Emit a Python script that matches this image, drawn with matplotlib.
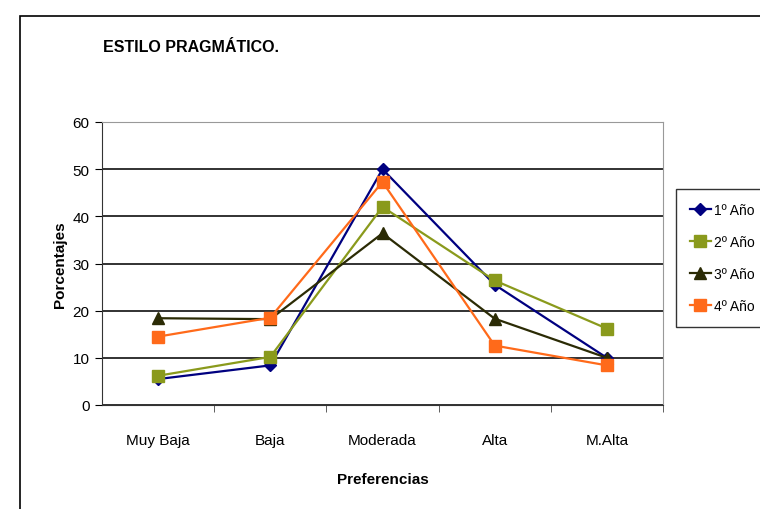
import matplotlib
matplotlib.use("Agg")
import matplotlib.pyplot as plt
from matplotlib.patches import Rectangle

categories = ["Muy Baja", "Baja", "Moderada", "Alta", "M.Alta"]
series_names = ["1º Año", "2º Año", "3º Año", "4º Año"]
anio1 = [5.5, 8.4, 50.0, 25.5, 10.0]
anio2 = [6.2, 10.2, 42.0, 26.4, 16.2]
anio3 = [18.4, 18.2, 36.4, 18.3, 10.0]
anio4 = [14.5, 18.5, 47.3, 12.6, 8.4]
y_ticks = [0, 10, 20, 30, 40, 50, 60]

plt.rcParams["font.family"] = ["Liberation Sans", "DejaVu Sans"]

fig = plt.figure(figsize=(7.6, 5.1), dpi=100)
fig.patch.set_facecolor("white")

# outer chart frame (cropped on right and bottom in the original)
fig.patches.append(Rectangle((20 / 760, -0.1), 1.2, 1 - 17 / 510 + 0.1,
                             transform=fig.transFigure, fill=False,
                             edgecolor="black", linewidth=1.2))

ax = fig.add_axes([102 / 760, 1 - 406 / 510, 561 / 760, 283 / 510])

x = list(range(len(categories)))
styles = [
    (anio1, "#000080", "D", 6.5),
    (anio2, "#8a9a1c", "s", 8),
    (anio3, "#2b2b05", "^", 8),
    (anio4, "#ff6a1a", "s", 8),
]
for (vals, color, marker, ms), name in zip(styles, series_names):
    ax.plot(x, vals, color=color, marker=marker, markersize=ms, linewidth=1.6,
            markeredgecolor=color, label=name)

ax.set_xlim(-0.5, len(categories) - 0.5)
ax.set_ylim(0, 60)
ax.set_yticks(y_ticks)
ax.set_xticks(x)
ax.set_xticklabels(categories)
ax.set_xticks([i + 0.5 for i in x], minor=True)
ax.tick_params(axis="x", which="major", length=0, pad=20, labelsize=11)
ax.tick_params(axis="x", which="minor", length=5, direction="out", color="#444444")
ax.tick_params(axis="y", length=5, direction="out", labelsize=11, pad=4)

ax.grid(axis="y", color="#222222", linewidth=1.3)
ax.set_axisbelow(True)
for side in ["top", "right"]:
    ax.spines[side].set_color("#999999")
ax.spines["left"].set_color("#333333")
ax.spines["bottom"].set_color("#333333")

ax.set_ylabel("Porcentajes", fontsize=11, fontweight="bold", labelpad=4)
ax.set_xlabel("Preferencias", fontsize=11, fontweight="bold", labelpad=18)

fig.text(103 / 760, 1 - 48 / 510, "ESTILO PRAGMÁTICO.", fontsize=11.5,
         fontweight="bold", va="center", ha="left")

leg = fig.legend(loc="upper left", bbox_to_anchor=(676 / 760, 1 - 190 / 510),
                 fancybox=False, edgecolor="black", fontsize=10, handlelength=1.5,
                 handletextpad=0.2, borderpad=1.0, borderaxespad=0,
                 labelspacing=1.3)
leg.get_frame().set_linewidth(1.0)

fig.savefig("out.png", dpi=100, facecolor="white")
